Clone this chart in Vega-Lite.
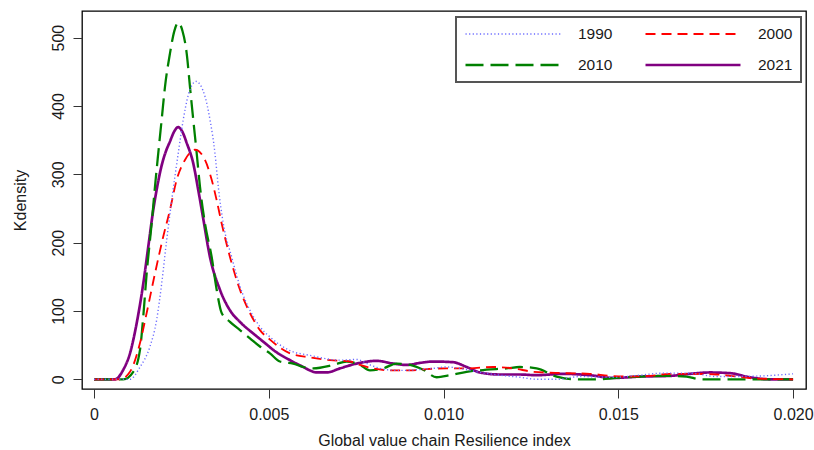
{
  "$schema": "https://vega.github.io/schema/vega-lite/v6.json",
  "width": 724,
  "height": 378,
  "autosize": {"type": "none"},
  "padding": {"left": 82, "top": 11, "right": 8, "bottom": 61},
  "background": "white",
  "config": {
    "font": "Liberation Sans, Arial, sans-serif",
    "view": {"stroke": "#000000", "strokeWidth": 1.3},
    "axis": {"domain": false, "grid": false, "tickColor": "#333333", "tickSize": 9, "tickWidth": 1, "labelFontSize": 16, "labelColor": "#1a1a1a", "titleFontSize": 16, "titleFontWeight": "normal", "titleColor": "#1a1a1a"},
    "legend": {"strokeWidth": 2}
  },
  "datasets": {
    "kd": [
      {"year": "2021", "x": 0, "y": 0}, {"year": "2021", "x": 0.000601, "y": 0}, {"year": "2021", "x": 0.000838, "y": 14}, {"year": "2021", "x": 0.00103, "y": 38}, {"year": "2021", "x": 0.001221, "y": 82}, {"year": "2021", "x": 0.00141, "y": 140}, {"year": "2021", "x": 0.001553, "y": 194}, {"year": "2021", "x": 0.001696, "y": 248}, {"year": "2021", "x": 0.001802, "y": 280}, {"year": "2021", "x": 0.001936, "y": 313}, {"year": "2021", "x": 0.00206, "y": 334}, {"year": "2021", "x": 0.002174, "y": 348}, {"year": "2021", "x": 0.002288, "y": 362}, {"year": "2021", "x": 0.002411, "y": 369}, {"year": "2021", "x": 0.002531, "y": 362}, {"year": "2021", "x": 0.002652, "y": 346}, {"year": "2021", "x": 0.00284, "y": 316}, {"year": "2021", "x": 0.002983, "y": 277}, {"year": "2021", "x": 0.003126, "y": 235}, {"year": "2021", "x": 0.003318, "y": 179}, {"year": "2021", "x": 0.003604, "y": 131}, {"year": "2021", "x": 0.00389, "y": 101}, {"year": "2021", "x": 0.004176, "y": 84}, {"year": "2021", "x": 0.004557, "y": 67}, {"year": "2021", "x": 0.004748, "y": 59}, {"year": "2021", "x": 0.00494, "y": 51}, {"year": "2021", "x": 0.005129, "y": 43}, {"year": "2021", "x": 0.005606, "y": 28}, {"year": "2021", "x": 0.005987, "y": 18}, {"year": "2021", "x": 0.006178, "y": 13}, {"year": "2021", "x": 0.00637, "y": 10}, {"year": "2021", "x": 0.006656, "y": 10}, {"year": "2021", "x": 0.007037, "y": 16}, {"year": "2021", "x": 0.007514, "y": 23}, {"year": "2021", "x": 0.008086, "y": 27}, {"year": "2021", "x": 0.008561, "y": 23}, {"year": "2021", "x": 0.008945, "y": 21}, {"year": "2021", "x": 0.009325, "y": 24}, {"year": "2021", "x": 0.009705, "y": 26}, {"year": "2021", "x": 0.010277, "y": 25}, {"year": "2021", "x": 0.010661, "y": 18}, {"year": "2021", "x": 0.011041, "y": 10}, {"year": "2021", "x": 0.011613, "y": 7}, {"year": "2021", "x": 0.012185, "y": 7}, {"year": "2021", "x": 0.012663, "y": 6}, {"year": "2021", "x": 0.013424, "y": 8}, {"year": "2021", "x": 0.014188, "y": 6}, {"year": "2021", "x": 0.014854, "y": 2}, {"year": "2021", "x": 0.015618, "y": 4}, {"year": "2021", "x": 0.016476, "y": 5}, {"year": "2021", "x": 0.017048, "y": 8}, {"year": "2021", "x": 0.01762, "y": 10}, {"year": "2021", "x": 0.018192, "y": 9}, {"year": "2021", "x": 0.018764, "y": 3}, {"year": "2021", "x": 0.019336, "y": 0}, {"year": "2021", "x": 0.02, "y": 0},

      {"year": "2010", "x": 0, "y": 0}, {"year": "2010", "x": 0.000838, "y": 0}, {"year": "2010", "x": 0.001124, "y": 11}, {"year": "2010", "x": 0.001316, "y": 43}, {"year": "2010", "x": 0.00141, "y": 92}, {"year": "2010", "x": 0.001507, "y": 155}, {"year": "2010", "x": 0.00165, "y": 228}, {"year": "2010", "x": 0.001745, "y": 282}, {"year": "2010", "x": 0.001839, "y": 331}, {"year": "2010", "x": 0.001936, "y": 380}, {"year": "2010", "x": 0.002031, "y": 428}, {"year": "2010", "x": 0.002174, "y": 477}, {"year": "2010", "x": 0.0023, "y": 510}, {"year": "2010", "x": 0.002411, "y": 522}, {"year": "2010", "x": 0.00253, "y": 510}, {"year": "2010", "x": 0.002652, "y": 477}, {"year": "2010", "x": 0.002746, "y": 428}, {"year": "2010", "x": 0.00284, "y": 380}, {"year": "2010", "x": 0.002938, "y": 331}, {"year": "2010", "x": 0.003032, "y": 282}, {"year": "2010", "x": 0.003175, "y": 228}, {"year": "2010", "x": 0.003367, "y": 179}, {"year": "2010", "x": 0.00351, "y": 131}, {"year": "2010", "x": 0.003653, "y": 97}, {"year": "2010", "x": 0.00389, "y": 84}, {"year": "2010", "x": 0.004176, "y": 72}, {"year": "2010", "x": 0.004462, "y": 60}, {"year": "2010", "x": 0.004748, "y": 48}, {"year": "2010", "x": 0.005034, "y": 38}, {"year": "2010", "x": 0.00532, "y": 26}, {"year": "2010", "x": 0.005701, "y": 23}, {"year": "2010", "x": 0.005987, "y": 18}, {"year": "2010", "x": 0.006273, "y": 16}, {"year": "2010", "x": 0.006845, "y": 21}, {"year": "2010", "x": 0.007228, "y": 26}, {"year": "2010", "x": 0.007609, "y": 21}, {"year": "2010", "x": 0.007895, "y": 13}, {"year": "2010", "x": 0.008275, "y": 16}, {"year": "2010", "x": 0.008658, "y": 23}, {"year": "2010", "x": 0.009039, "y": 21}, {"year": "2010", "x": 0.009419, "y": 14}, {"year": "2010", "x": 0.009803, "y": 3}, {"year": "2010", "x": 0.010183, "y": 6}, {"year": "2010", "x": 0.010661, "y": 11}, {"year": "2010", "x": 0.011233, "y": 14}, {"year": "2010", "x": 0.011805, "y": 16}, {"year": "2010", "x": 0.012185, "y": 18}, {"year": "2010", "x": 0.012663, "y": 16}, {"year": "2010", "x": 0.013235, "y": 4}, {"year": "2010", "x": 0.01371, "y": 0}, {"year": "2010", "x": 0.014379, "y": 0}, {"year": "2010", "x": 0.014951, "y": 2}, {"year": "2010", "x": 0.015618, "y": 4}, {"year": "2010", "x": 0.016284, "y": 5}, {"year": "2010", "x": 0.016954, "y": 4}, {"year": "2010", "x": 0.017334, "y": 0}, {"year": "2010", "x": 0.02, "y": 0},

      {"year": "2000", "x": 0, "y": 0}, {"year": "2000", "x": 0.000744, "y": 0}, {"year": "2000", "x": 0.00103, "y": 11}, {"year": "2000", "x": 0.001316, "y": 53}, {"year": "2000", "x": 0.001507, "y": 97}, {"year": "2000", "x": 0.001745, "y": 155}, {"year": "2000", "x": 0.001982, "y": 209}, {"year": "2000", "x": 0.002174, "y": 248}, {"year": "2000", "x": 0.002366, "y": 292}, {"year": "2000", "x": 0.002603, "y": 321}, {"year": "2000", "x": 0.002889, "y": 336}, {"year": "2000", "x": 0.003175, "y": 321}, {"year": "2000", "x": 0.003367, "y": 292}, {"year": "2000", "x": 0.00351, "y": 262}, {"year": "2000", "x": 0.003653, "y": 228}, {"year": "2000", "x": 0.00389, "y": 179}, {"year": "2000", "x": 0.004176, "y": 131}, {"year": "2000", "x": 0.004462, "y": 97}, {"year": "2000", "x": 0.004748, "y": 72}, {"year": "2000", "x": 0.005034, "y": 58}, {"year": "2000", "x": 0.005606, "y": 38}, {"year": "2000", "x": 0.006178, "y": 32}, {"year": "2000", "x": 0.006751, "y": 28}, {"year": "2000", "x": 0.007323, "y": 26}, {"year": "2000", "x": 0.007609, "y": 21}, {"year": "2000", "x": 0.007989, "y": 16}, {"year": "2000", "x": 0.008561, "y": 13}, {"year": "2000", "x": 0.009039, "y": 13}, {"year": "2000", "x": 0.009517, "y": 15}, {"year": "2000", "x": 0.010089, "y": 16}, {"year": "2000", "x": 0.010661, "y": 16}, {"year": "2000", "x": 0.011422, "y": 18}, {"year": "2000", "x": 0.011994, "y": 16}, {"year": "2000", "x": 0.012566, "y": 11}, {"year": "2000", "x": 0.013424, "y": 9}, {"year": "2000", "x": 0.014188, "y": 8}, {"year": "2000", "x": 0.01476, "y": 5}, {"year": "2000", "x": 0.015332, "y": 4}, {"year": "2000", "x": 0.015904, "y": 5}, {"year": "2000", "x": 0.016476, "y": 8}, {"year": "2000", "x": 0.017048, "y": 8}, {"year": "2000", "x": 0.017812, "y": 7}, {"year": "2000", "x": 0.018384, "y": 4}, {"year": "2000", "x": 0.018956, "y": 1}, {"year": "2000", "x": 0.02, "y": 0},

      {"year": "1990", "x": 0, "y": 0}, {"year": "1990", "x": 0.00103, "y": 0}, {"year": "1990", "x": 0.001316, "y": 18}, {"year": "1990", "x": 0.001602, "y": 48}, {"year": "1990", "x": 0.001793, "y": 87}, {"year": "1990", "x": 0.001936, "y": 140}, {"year": "1990", "x": 0.00208, "y": 204}, {"year": "1990", "x": 0.002223, "y": 262}, {"year": "1990", "x": 0.002411, "y": 331}, {"year": "1990", "x": 0.002554, "y": 380}, {"year": "1990", "x": 0.002697, "y": 416}, {"year": "1990", "x": 0.002918, "y": 436}, {"year": "1990", "x": 0.003175, "y": 414}, {"year": "1990", "x": 0.003318, "y": 380}, {"year": "1990", "x": 0.003461, "y": 331}, {"year": "1990", "x": 0.003556, "y": 282}, {"year": "1990", "x": 0.003699, "y": 228}, {"year": "1990", "x": 0.003939, "y": 179}, {"year": "1990", "x": 0.004176, "y": 136}, {"year": "1990", "x": 0.004462, "y": 101}, {"year": "1990", "x": 0.004748, "y": 77}, {"year": "1990", "x": 0.005034, "y": 62}, {"year": "1990", "x": 0.005606, "y": 42}, {"year": "1990", "x": 0.006178, "y": 35}, {"year": "1990", "x": 0.007037, "y": 28}, {"year": "1990", "x": 0.007514, "y": 29}, {"year": "1990", "x": 0.007895, "y": 21}, {"year": "1990", "x": 0.008372, "y": 14}, {"year": "1990", "x": 0.008847, "y": 13}, {"year": "1990", "x": 0.00923, "y": 14}, {"year": "1990", "x": 0.009705, "y": 16}, {"year": "1990", "x": 0.010089, "y": 18}, {"year": "1990", "x": 0.010469, "y": 16}, {"year": "1990", "x": 0.010947, "y": 11}, {"year": "1990", "x": 0.011613, "y": 6}, {"year": "1990", "x": 0.012185, "y": 3}, {"year": "1990", "x": 0.012663, "y": 0}, {"year": "1990", "x": 0.013235, "y": 0}, {"year": "1990", "x": 0.013902, "y": 4}, {"year": "1990", "x": 0.014854, "y": 3}, {"year": "1990", "x": 0.015618, "y": 6}, {"year": "1990", "x": 0.016284, "y": 9}, {"year": "1990", "x": 0.017048, "y": 9}, {"year": "1990", "x": 0.017812, "y": 4}, {"year": "1990", "x": 0.018384, "y": 4}, {"year": "1990", "x": 0.019145, "y": 5}, {"year": "1990", "x": 0.02, "y": 8}
    ]
  },
  "data": {"name": "kd"},
  "mark": {"type": "line", "interpolate": "monotone"},
  "encoding": {
    "x": {
      "field": "x", "type": "quantitative",
      "scale": {"domain": [-0.000343, 0.02037], "nice": false, "zero": false},
      "axis": {"title": "Global value chain Resilience index", "values": [0, 0.005, 0.01, 0.015, 0.02], "labelExpr": "datum.value == 0 ? '0' : format(datum.value, '.3f')", "labelPadding": 8, "titlePadding": 10, "labelFlush": false, "labelOverlap": false}
    },
    "y": {
      "field": "y", "type": "quantitative",
      "scale": {"domain": [-14.2, 539], "nice": false, "zero": false},
      "axis": {"title": "Kdensity", "values": [0, 100, 200, 300, 400, 500], "labelAngle": 270, "labelAlign": "center", "labelBaseline": "alphabetic", "labelPadding": 10, "titlePadding": 22, "labelOverlap": false}
    },
    "color": {
      "field": "year", "type": "nominal",
      "scale": {"domain": ["1990", "2000", "2010", "2021"], "range": ["#6b6bff", "#ff0000", "#008000", "#800080"]},
      "legend": {"title": null, "orient": "none", "legendX": 374, "legendY": 6, "direction": "horizontal", "columns": 2, "symbolType": "stroke", "symbolSize": 9025, "clipHeight": 18, "labelOffset": 16, "columnPadding": 31, "rowPadding": 13, "padding": 8, "strokeColor": "#555555", "labelFontSize": 15.5, "labelColor": "#1a1a1a"}
    },
    "strokeDash": {
      "field": "year", "type": "nominal",
      "scale": {"domain": ["1990", "2000", "2010", "2021"], "range": [[1.2, 2.4], [10, 6], [18, 7], [1, 0]]}
    },
    "strokeWidth": {
      "field": "year", "type": "nominal",
      "scale": {"domain": ["1990", "2000", "2010", "2021"], "range": [1.4, 2.7, 3, 2.6]}
    }
  }
}
